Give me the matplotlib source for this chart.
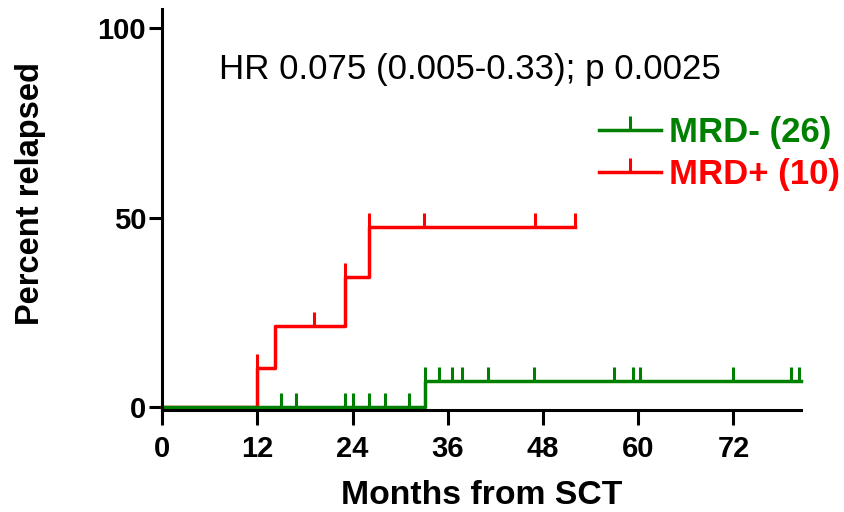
import numpy as np
import matplotlib
matplotlib.use('Agg')
import matplotlib.pyplot as plt
from matplotlib.lines import Line2D

plt.rcParams['font.family'] = ['Liberation Sans', 'DejaVu Sans']

# Cumulative relapse (step curves), months from SCT / percent
pos_times = [0, 12, 14.2, 23.1, 26.1, 52.0]
pos_levels = [0, 10.3, 21.6, 34.3, 47.5, 47.5]
pos_censor = [12, 19.1, 23.1, 26.1, 33.0, 47.0, 52.0]

neg_times = [0, 33.1, 80.5]
neg_levels = [0, 7.1, 7.1]
neg_censor = [15.0, 16.9, 23.1, 24.1, 26.1, 28.1, 31.1, 33.1, 34.9, 36.5,
              37.8, 41.1, 46.9, 56.9, 59.4, 60.2, 72.0, 79.2, 80.2]

x_ticks = [0, 12, 24, 36, 48, 60, 72]
y_ticks = [0, 50, 100]
labels = ['MRD- (26)', 'MRD+ (10)']
colors = ['green', 'red']
hr_text = 'HR 0.075 (0.005-0.33); p 0.0025'


def level_at(times, levels, t):
    idx = np.searchsorted(times, t, side='right') - 1
    return np.array(levels)[idx]


fig = plt.figure(figsize=(8.44, 5.12), dpi=100)
ax = fig.add_axes([0.192, 0.199, 0.757, 0.783])

# MRD+ drawn first, MRD- on top
for times, levels, cens, col in [(pos_times, pos_levels, pos_censor, colors[1]),
                                 (neg_times, neg_levels, neg_censor, colors[0])]:
    ax.step(times, levels, where='post', color=col, lw=2.5, clip_on=False)
    ax.plot(cens, level_at(times, levels, cens), ls='none', marker=2,
            ms=10, mew=2.2, color=col, clip_on=False)

ax.set_xlim(0, 80.5)
ax.set_ylim(-0.7, 105)
ax.set_xticks(x_ticks)
ax.set_yticks(y_ticks)

for s in ['top', 'right']:
    ax.spines[s].set_visible(False)
for s in ['left', 'bottom']:
    ax.spines[s].set_linewidth(2.2)
ax.tick_params(axis='x', length=11, width=2.2, pad=7, labelsize=21)
ax.tick_params(axis='y', length=9.5, width=2.2, pad=2, labelsize=21)
for lab in ax.get_xticklabels() + ax.get_yticklabels():
    lab.set_fontweight('bold')

ax.set_xlabel('Months from SCT', fontsize=24.3, fontweight='bold', labelpad=12)
ax.set_ylabel('Percent relapsed', fontsize=23.5, fontweight='bold')
ax.yaxis.set_label_coords(-0.182, 0.541)

ax.text(7.2, 89.2, hr_text, fontsize=25.1, va='center', ha='left')

handles = [Line2D([], [], color=c, lw=2.5, marker=2, ms=10, mew=2.2) for c in colors]
leg = ax.legend(handles, labels, loc='upper left', bbox_to_anchor=(0.689, 0.808),
                bbox_transform=fig.transFigure, frameon=False, borderpad=0,
                handlelength=1.8, handletextpad=0.23, labelspacing=0.26,
                prop={'size': 25, 'weight': 'bold'}, labelcolor=colors)

fig.savefig('out.png', dpi=100)
